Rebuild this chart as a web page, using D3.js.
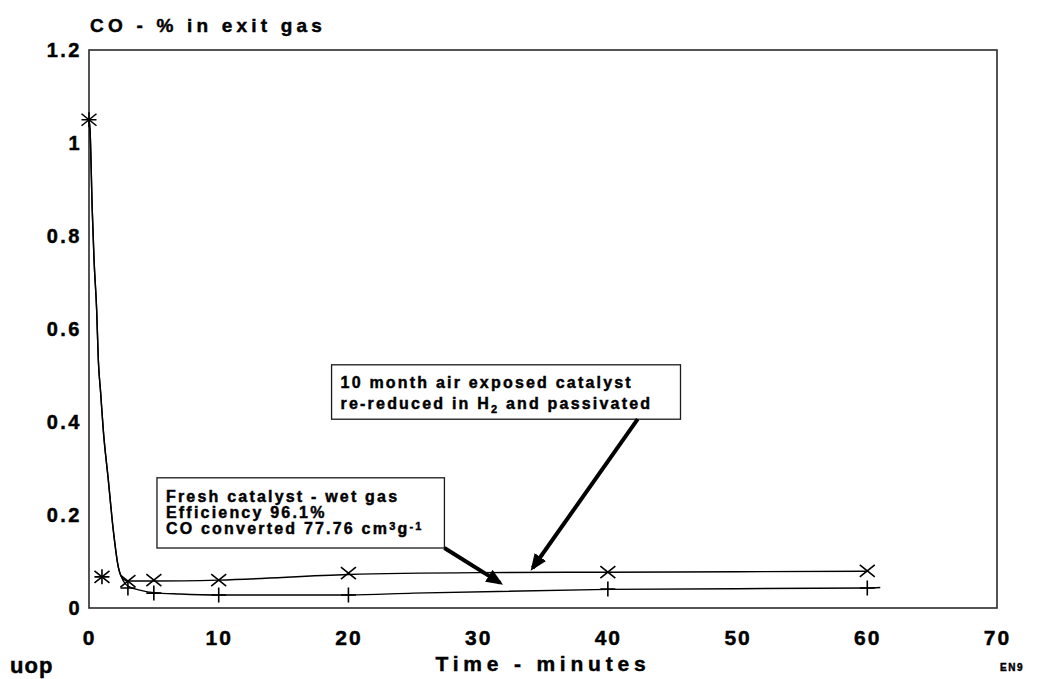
<!DOCTYPE html>
<html>
<head>
<meta charset="utf-8">
<script src="https://cdn.jsdelivr.net/npm/d3@7/dist/d3.min.js"></script>
<style>
  html, body { margin: 0; padding: 0; background: #fff; }
  svg { display: block; }
  text { font-family: "Liberation Sans", Arial, Helvetica, sans-serif; font-weight: bold; fill: #000;
         stroke: #000; stroke-width: 0.45px; paint-order: stroke; }
</style>
</head>
<body>
<script>
// Sampling times (minutes) and measured CO in exit gas (%)
const timeMin   = [0, 1, 3, 5, 10, 20, 40, 60];
const reReduced = [1.05, 0.067, 0.058, 0.06, 0.06, 0.075, 0.077, 0.08];   // x markers
const fresh     = [1.05, 0.067, 0.043, 0.032, 0.028, 0.028, 0.041, 0.043]; // + markers

// Hand-drawn trend curves through each series
const reReducedFitT = [0, 0.08, 0.25, 0.39, 0.59, 0.72, 0.9, 1.1, 1.49, 1.87, 2.26, 2.65, 3, 5, 10, 20, 30, 40, 60];
const reReducedFitV = [1.05, 1.028, 0.856, 0.748, 0.641, 0.533, 0.462, 0.383, 0.275, 0.168, 0.088, 0.062, 0.058, 0.058, 0.06, 0.072, 0.076, 0.077, 0.079];
const freshFitT = [0, 0.08, 0.25, 0.39, 0.59, 0.72, 0.9, 1.1, 1.49, 1.87, 2.26, 2.65, 3, 4, 5, 7, 10, 20, 25, 40, 60, 61];
const freshFitV = [1.05, 1.028, 0.856, 0.748, 0.641, 0.533, 0.462, 0.383, 0.275, 0.168, 0.088, 0.058, 0.047, 0.038, 0.033, 0.03, 0.028, 0.028, 0.032, 0.04, 0.043, 0.044];

// Axis ticks
const xTicks = [0, 10, 20, 30, 40, 50, 60, 70];
const yTicks = [0, 0.2, 0.4, 0.6, 0.8, 1, 1.2];
const yTickLabels = ["0", "0.2", "0.4", "0.6", "0.8", "1", "1.2"];

// Annotation boxes (data coordinates: [tLeft, vTop, tRight, vBottom]) and arrows
const noteAirLines = ["10 month air exposed catalyst", "re-reduced in H|2| and passivated"];
const noteAirBox = [18.7, 0.523, 45.6, 0.406];
const noteAirArrow = [[42.3, 0.406], [34.2, 0.086]];
const noteFreshLines = ["Fresh catalyst - wet gas", "Efficiency 96.1%", "CO converted 77.76 cm^3^g^-1^"];
const noteFreshBox = [5.24, 0.28, 27.4, 0.129];
const noteFreshArrow = [[27.4, 0.129], [31.7, 0.054]];

const W = 1041, H = 679;
const svg = d3.select("body").append("svg").attr("width", W).attr("height", H);

const x = d3.scaleLinear().domain([0, 70]).range([89, 997]);
const y = d3.scaleLinear().domain([0, 1.2]).range([608, 50]);

// Frame
svg.append("rect")
  .attr("x", x(0)).attr("y", y(1.2))
  .attr("width", x(70) - x(0)).attr("height", y(0) - y(1.2))
  .attr("fill", "none").attr("stroke", "#2a2a2a").attr("stroke-width", 1.6);

// Axes (labels only)
const xAxis = svg.append("g").attr("transform", `translate(0,${y(0)})`)
  .call(d3.axisBottom(x).tickValues(xTicks).tickSize(0).tickPadding(22).tickFormat(d3.format("d")));
xAxis.select(".domain").remove();
xAxis.selectAll("text").attr("font-size", 21).style("letter-spacing", "2px")
  .attr("font-family", null).attr("fill", "#000");

const yAxis = svg.append("g").attr("transform", `translate(${x(0)},0)`)
  .call(d3.axisLeft(y).tickValues(yTicks).tickSize(0).tickPadding(7)
    .tickFormat((d, i) => yTickLabels[i]));
yAxis.select(".domain").remove();
yAxis.selectAll("text").attr("font-size", 20).style("letter-spacing", "2.5px")
  .attr("font-family", null).attr("fill", "#000");

// Titles
svg.append("text").attr("x", 90).attr("y", 32).attr("font-size", 19)
  .style("letter-spacing", "4.2px").text("CO - % in exit gas");
svg.append("text").attr("x", 543).attr("y", 671).attr("text-anchor", "middle")
  .attr("font-size", 21).style("letter-spacing", "4.8px").text("Time - minutes");
svg.append("text").attr("x", 10).attr("y", 673).attr("font-size", 22)
  .style("letter-spacing", "1px").text("uop");
svg.append("text").attr("x", 1000).attr("y", 671).attr("font-size", 10)
  .style("letter-spacing", "1.5px").text("EN9");

// Trend curves
const line = d3.line().x(d => x(d[0])).y(d => y(d[1])).curve(d3.curveMonotoneX);
svg.append("path").datum(d3.zip(reReducedFitT, reReducedFitV))
  .attr("d", line).attr("fill", "none").attr("stroke", "#000").attr("stroke-width", 1.4);
svg.append("path").datum(d3.zip(freshFitT, freshFitV))
  .attr("d", line).attr("fill", "none").attr("stroke", "#000").attr("stroke-width", 1.4);

// Markers
const cross = 7.5, plus = 7.5;
svg.append("g").selectAll("path").data(d3.zip(timeMin, reReduced)).join("path")
  .attr("d", d => {
    const cx = x(d[0]), cy = y(d[1]);
    return `M${cx - cross},${cy - cross * 0.8}L${cx + cross},${cy + cross * 0.8}M${cx - cross},${cy + cross * 0.8}L${cx + cross},${cy - cross * 0.8}`;
  })
  .attr("stroke", "#000").attr("stroke-width", 1.6).attr("fill", "none");
svg.append("g").selectAll("path").data(d3.zip(timeMin, fresh)).join("path")
  .attr("d", d => {
    const cx = x(d[0]), cy = y(d[1]);
    return `M${cx - plus},${cy}L${cx + plus},${cy}M${cx},${cy - plus}L${cx},${cy + plus}`;
  })
  .attr("stroke", "#000").attr("stroke-width", 1.6).attr("fill", "none");

// Arrow head marker
svg.append("defs").append("marker")
  .attr("id", "head").attr("viewBox", "0 0 10 10").attr("refX", 8).attr("refY", 5)
  .attr("markerWidth", 4.2).attr("markerHeight", 4.2).attr("orient", "auto")
  .append("path").attr("d", "M0,0.8L10,5L0,9.2Z").attr("fill", "#000");

// Draws a line of text with |sub| and ^sup^ segments
function richText(sel, str) {
  const parts = str.split(/(\|[^|]*\||\^[^^]*\^)/).filter(s => s.length);
  let shift = 0;
  parts.forEach(p => {
    let dy = 0, size = null, txt = p;
    if (p[0] === "|") { txt = p.slice(1, -1); dy = 4; size = 11; }
    else if (p[0] === "^") { txt = p.slice(1, -1); dy = -4; size = 11; }
    const t = sel.append("tspan").text(txt).attr("dy", dy - shift);
    if (size) t.attr("font-size", size);
    shift = dy;
  });
}

function note(lines, box, arrow, baselines) {
  const g = svg.append("g");
  g.append("rect")
    .attr("x", x(box[0])).attr("y", y(box[1]))
    .attr("width", x(box[2]) - x(box[0])).attr("height", y(box[3]) - y(box[1]))
    .attr("fill", "#fff").attr("stroke", "#1a1a1a").attr("stroke-width", 1.3);
  lines.forEach((s, i) => {
    const t = g.append("text").attr("x", x(box[0]) + 9).attr("y", y(box[1]) + baselines[i])
      .attr("font-size", 16).style("letter-spacing", "2.2px");
    richText(t, s);
  });
  g.append("line")
    .attr("x1", x(arrow[0][0])).attr("y1", y(arrow[0][1]))
    .attr("x2", x(arrow[1][0])).attr("y2", y(arrow[1][1]))
    .attr("stroke", "#000").attr("stroke-width", 4).attr("marker-end", "url(#head)");
}

note(noteAirLines, noteAirBox, noteAirArrow, [23, 44]);
note(noteFreshLines, noteFreshBox, noteFreshArrow, [24, 40, 56]);
</script>
</body>
</html>
